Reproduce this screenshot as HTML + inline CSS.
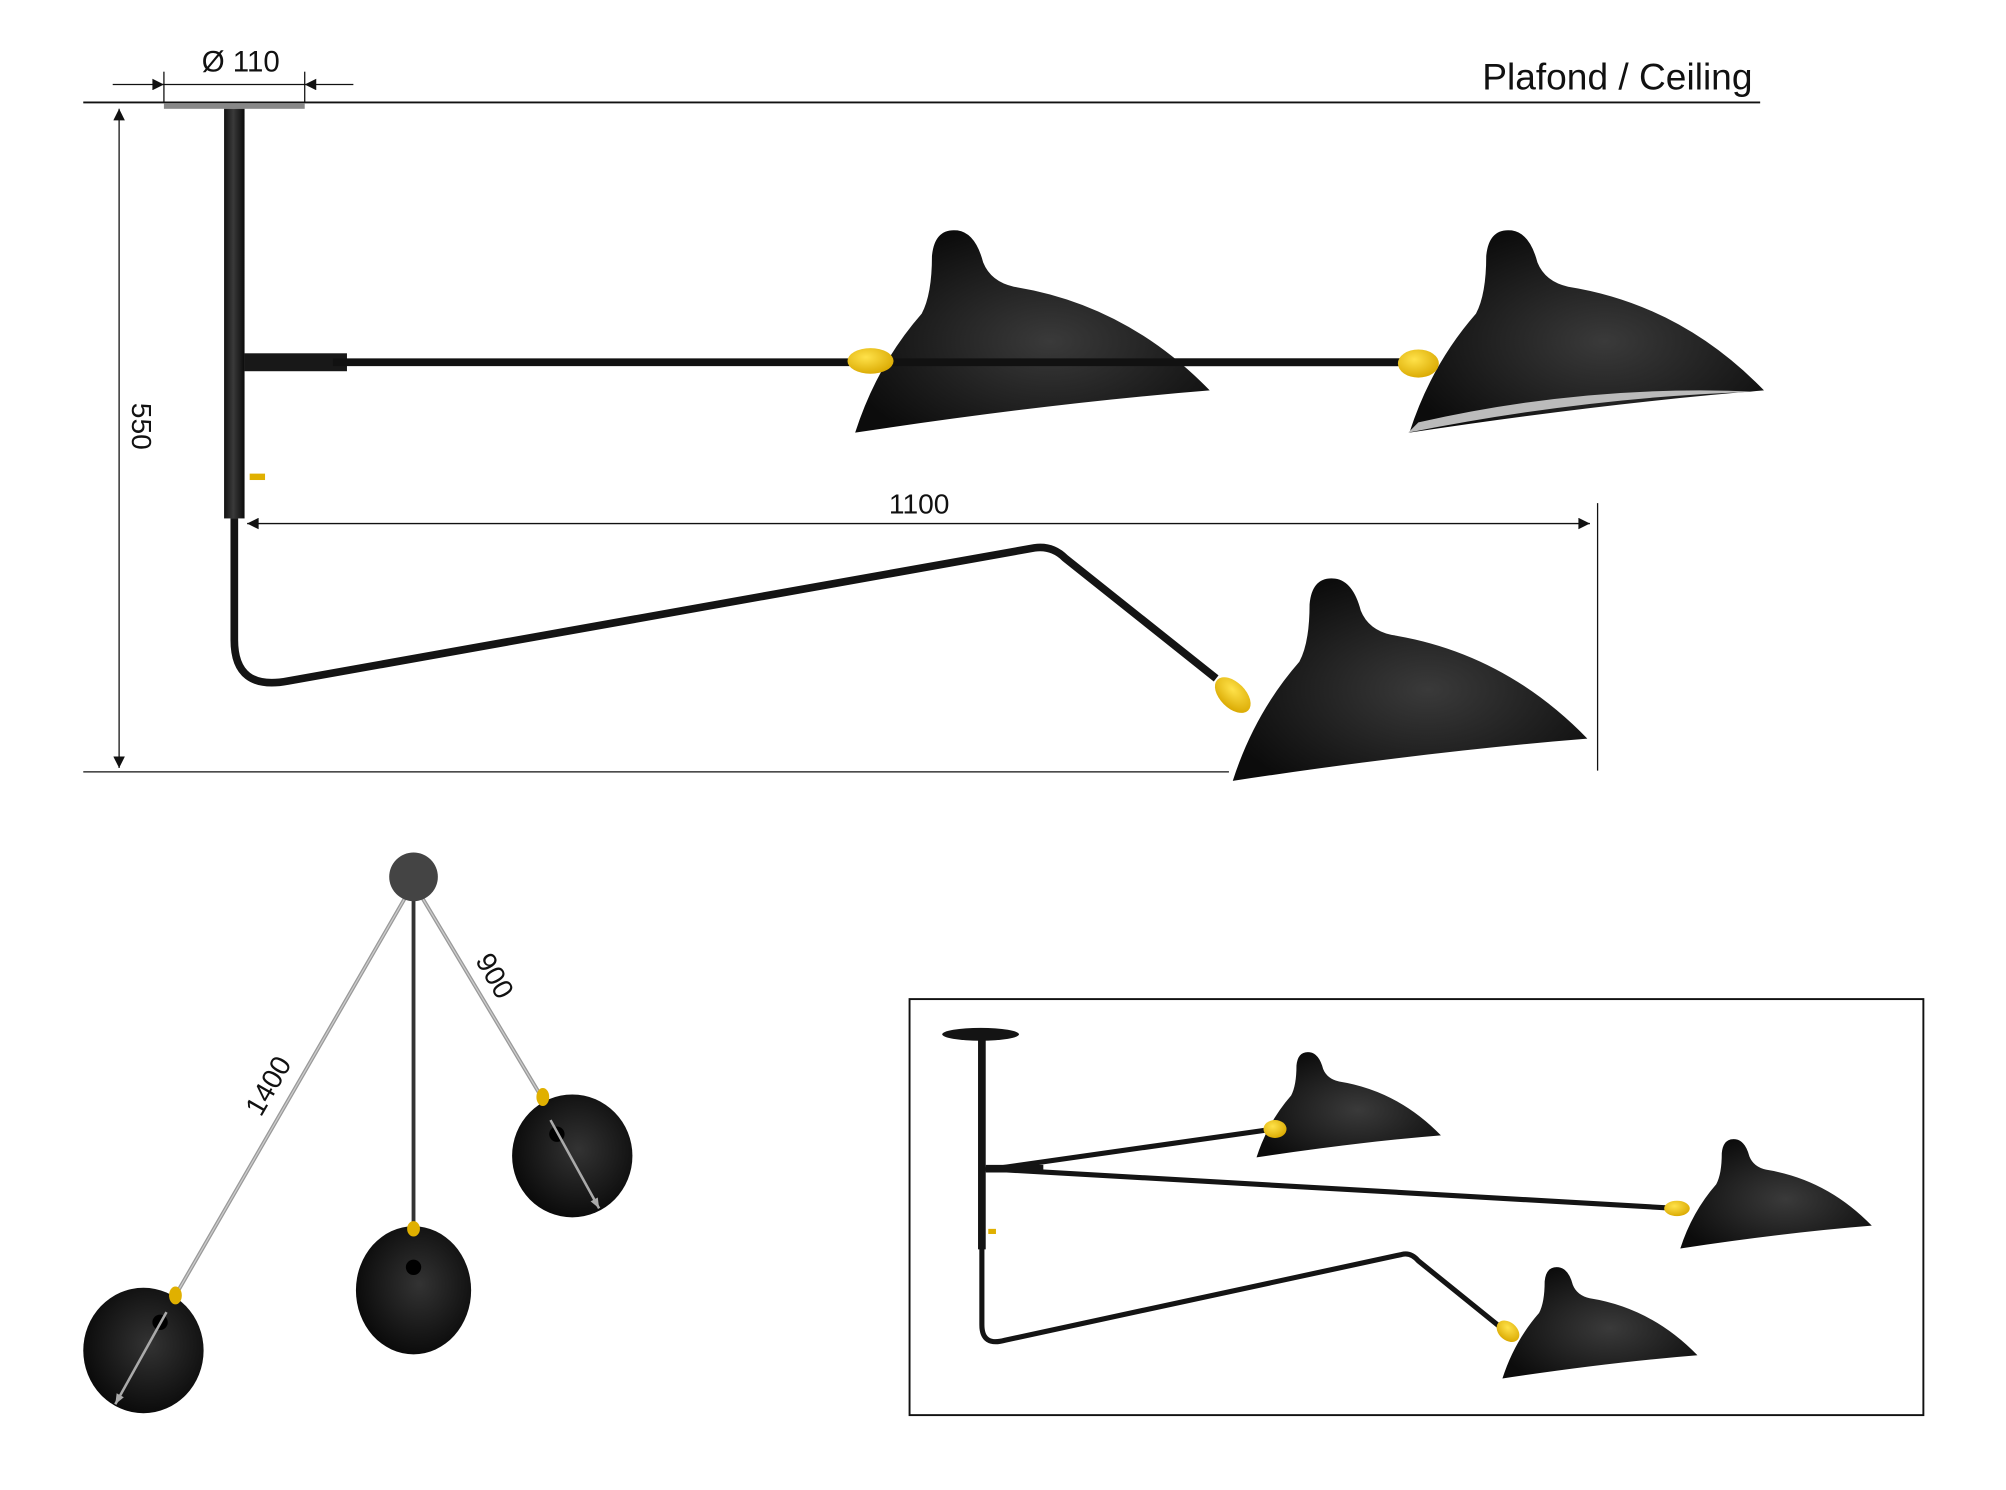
<!DOCTYPE html>
<html><head><meta charset="utf-8"><style>
html,body{margin:0;padding:0;background:#fff;}
svg{display:block;}
text{font-family:"Liberation Sans",sans-serif;fill:#111;}
</style></head><body>
<svg width="2006" height="1490" viewBox="0 0 1567 1164" xmlns="http://www.w3.org/2000/svg">
<defs>
<radialGradient id="sg" cx="0.55" cy="0.55" r="0.6">
<stop offset="0" stop-color="#3a3a3a"/><stop offset="1" stop-color="#0c0c0c"/></radialGradient>
<radialGradient id="dg" cx="0.55" cy="0.45" r="0.6">
<stop offset="0" stop-color="#333"/><stop offset="1" stop-color="#080808"/></radialGradient>
<radialGradient id="yg" cx="0.4" cy="0.35" r="0.7">
<stop offset="0" stop-color="#ffe24a"/><stop offset="1" stop-color="#d9a800"/></radialGradient>
<linearGradient id="pg" x1="0" x2="1" y1="0" y2="0">
<stop offset="0" stop-color="#111"/><stop offset="0.45" stop-color="#3a3a3a"/><stop offset="1" stop-color="#0a0a0a"/></linearGradient>
<g id="shade">
<path d="M728,200 Q730,178 748,180 Q762,182 768,205 Q774,220 792,224 Q880,238 945,305 Q820,315 668,338 Q685,285 720,245 Q728,230 728,200 Z" fill="url(#sg)"/>
</g>
<marker id="ar" viewBox="0 0 10 10" refX="10" refY="5" markerWidth="15" markerHeight="9" orient="auto-start-reverse" markerUnits="userSpaceOnUse"><path d="M0,0 L10,5 L0,10 Z" fill="#111"/></marker>
<marker id="ag" viewBox="0 0 10 10" refX="10" refY="5" markerWidth="12" markerHeight="8" orient="auto" markerUnits="userSpaceOnUse"><path d="M0,1 L10,5 L0,9 Z" fill="#aaa"/></marker>
</defs>

<line x1="65" y1="80" x2="1375" y2="80" stroke="#111" stroke-width="1.5"/>
<text x="1369" y="70" font-size="29" text-anchor="end">Plafond / Ceiling</text>
<text x="188" y="56" font-size="23" text-anchor="middle">Ø 110</text>
<line x1="128" y1="56" x2="128" y2="80" stroke="#111"/>
<line x1="238" y1="56" x2="238" y2="80" stroke="#111"/>
<line x1="88" y1="66" x2="128" y2="66" stroke="#111" marker-end="url(#ar)"/>
<line x1="276" y1="66" x2="238" y2="66" stroke="#111" marker-end="url(#ar)"/>
<line x1="128" y1="66" x2="238" y2="66" stroke="#111"/>
<rect x="128" y="81" width="110" height="4" fill="#888"/>

<rect x="175" y="85" width="16" height="320" fill="url(#pg)"/>
<rect x="195" y="370" width="12" height="5" fill="#e0b000"/>
<rect x="191" y="276" width="80" height="14" fill="#181818"/>
<line x1="260" y1="283" x2="1105" y2="283" stroke="#111" stroke-width="6"/>
<use href="#shade"/>
<use href="#shade" transform="translate(433,0)"/>
<path d="M1108,330 Q1240,300 1372,306 Q1240,310 1100,338 Z" fill="#bbb"/>
<line x1="690" y1="283" x2="1105" y2="283" stroke="#111" stroke-width="6"/>
<ellipse cx="680" cy="282" rx="18" ry="10" fill="url(#yg)"/>
<ellipse cx="1108" cy="284" rx="16" ry="11" fill="url(#yg)"/>

<path d="M183,405 L183,500 Q183,540 225,532 L808,428 Q822,426 832,436 L950,530" fill="none" stroke="#141414" stroke-width="6"/>
<use href="#shade" transform="translate(295,272)"/>
<ellipse cx="963" cy="543" rx="17" ry="10" transform="rotate(45 963 543)" fill="url(#yg)"/>

<line x1="93" y1="85" x2="93" y2="600" stroke="#111" marker-start="url(#ar)" marker-end="url(#ar)"/>
<text x="0" y="0" font-size="22" text-anchor="middle" transform="translate(103,333) rotate(90)">550</text>
<line x1="65" y1="603" x2="960" y2="603" stroke="#111"/>
<line x1="193" y1="409" x2="1242" y2="409" stroke="#111" marker-start="url(#ar)" marker-end="url(#ar)"/>
<line x1="1248" y1="393" x2="1248" y2="602" stroke="#111"/>
<text x="718" y="401" font-size="22" text-anchor="middle">1100</text>

<line x1="323" y1="690" x2="137" y2="1012" stroke="#999" stroke-width="3"/>
<line x1="323" y1="690" x2="137" y2="1012" stroke="#ccc" stroke-width="1"/>
<line x1="323" y1="690" x2="323" y2="960" stroke="#333" stroke-width="3"/>
<line x1="323" y1="690" x2="423" y2="857" stroke="#999" stroke-width="3"/>
<line x1="323" y1="690" x2="423" y2="857" stroke="#ccc" stroke-width="1"/>
<circle cx="323" cy="685" r="19" fill="#444"/>
<ellipse cx="112" cy="1055" rx="47" ry="49" fill="url(#dg)"/>
<ellipse cx="323" cy="1008" rx="45" ry="50" fill="url(#dg)"/>
<ellipse cx="447" cy="903" rx="47" ry="48" fill="url(#dg)"/>
<circle cx="125" cy="1033" r="6" fill="#000"/>
<circle cx="323" cy="990" r="6" fill="#000"/>
<circle cx="435" cy="886" r="6" fill="#000"/>
<ellipse cx="137" cy="1012" rx="5" ry="7" fill="#e0b000"/>
<ellipse cx="323" cy="960" rx="5" ry="6" fill="#e0b000"/>
<ellipse cx="424" cy="857" rx="5" ry="7" fill="#e0b000"/>
<line x1="130" y1="1025" x2="90" y2="1097" stroke="#aaa" stroke-width="2" marker-end="url(#ag)"/>
<line x1="430" y1="875" x2="468" y2="944" stroke="#aaa" stroke-width="2" marker-end="url(#ag)"/>
<text x="0" y="0" font-size="22" text-anchor="middle" transform="translate(216,852) rotate(-60)">1400</text>
<text x="0" y="0" font-size="22" text-anchor="middle" transform="translate(380,766) rotate(60)">900</text>

<rect x="710.5" y="780.5" width="792" height="325" fill="none" stroke="#111" stroke-width="1.5"/>
<rect x="764" y="808" width="6" height="168" fill="#141414"/>
<ellipse cx="766" cy="808" rx="30" ry="5" fill="#141414"/>
<rect x="772" y="960" width="6" height="4" fill="#e0b000"/>
<line x1="770" y1="914" x2="995" y2="882" stroke="#141414" stroke-width="4"/>
<line x1="770" y1="913" x2="1310" y2="944" stroke="#141414" stroke-width="4"/>
<line x1="770" y1="913" x2="815" y2="913" stroke="#141414" stroke-width="6"/>
<path d="M767,975 L767,1035 Q767,1052 785,1047 L1095,980 Q1102,978 1108,985 L1176,1040" fill="none" stroke="#141414" stroke-width="4"/>
<g transform="translate(980,822) scale(0.52) translate(-665,-180)"><use href="#shade"/></g>
<g transform="translate(1311,890) scale(0.54) translate(-665,-180)"><use href="#shade"/></g>
<g transform="translate(1172,990) scale(0.55) translate(-665,-180)"><use href="#shade"/></g>
<ellipse cx="996" cy="882" rx="9" ry="7" fill="url(#yg)"/>
<ellipse cx="1310" cy="944" rx="10" ry="6" fill="url(#yg)"/>
<ellipse cx="1178" cy="1040" rx="10" ry="7" transform="rotate(40 1178 1040)" fill="url(#yg)"/>
</svg>
</body></html>
